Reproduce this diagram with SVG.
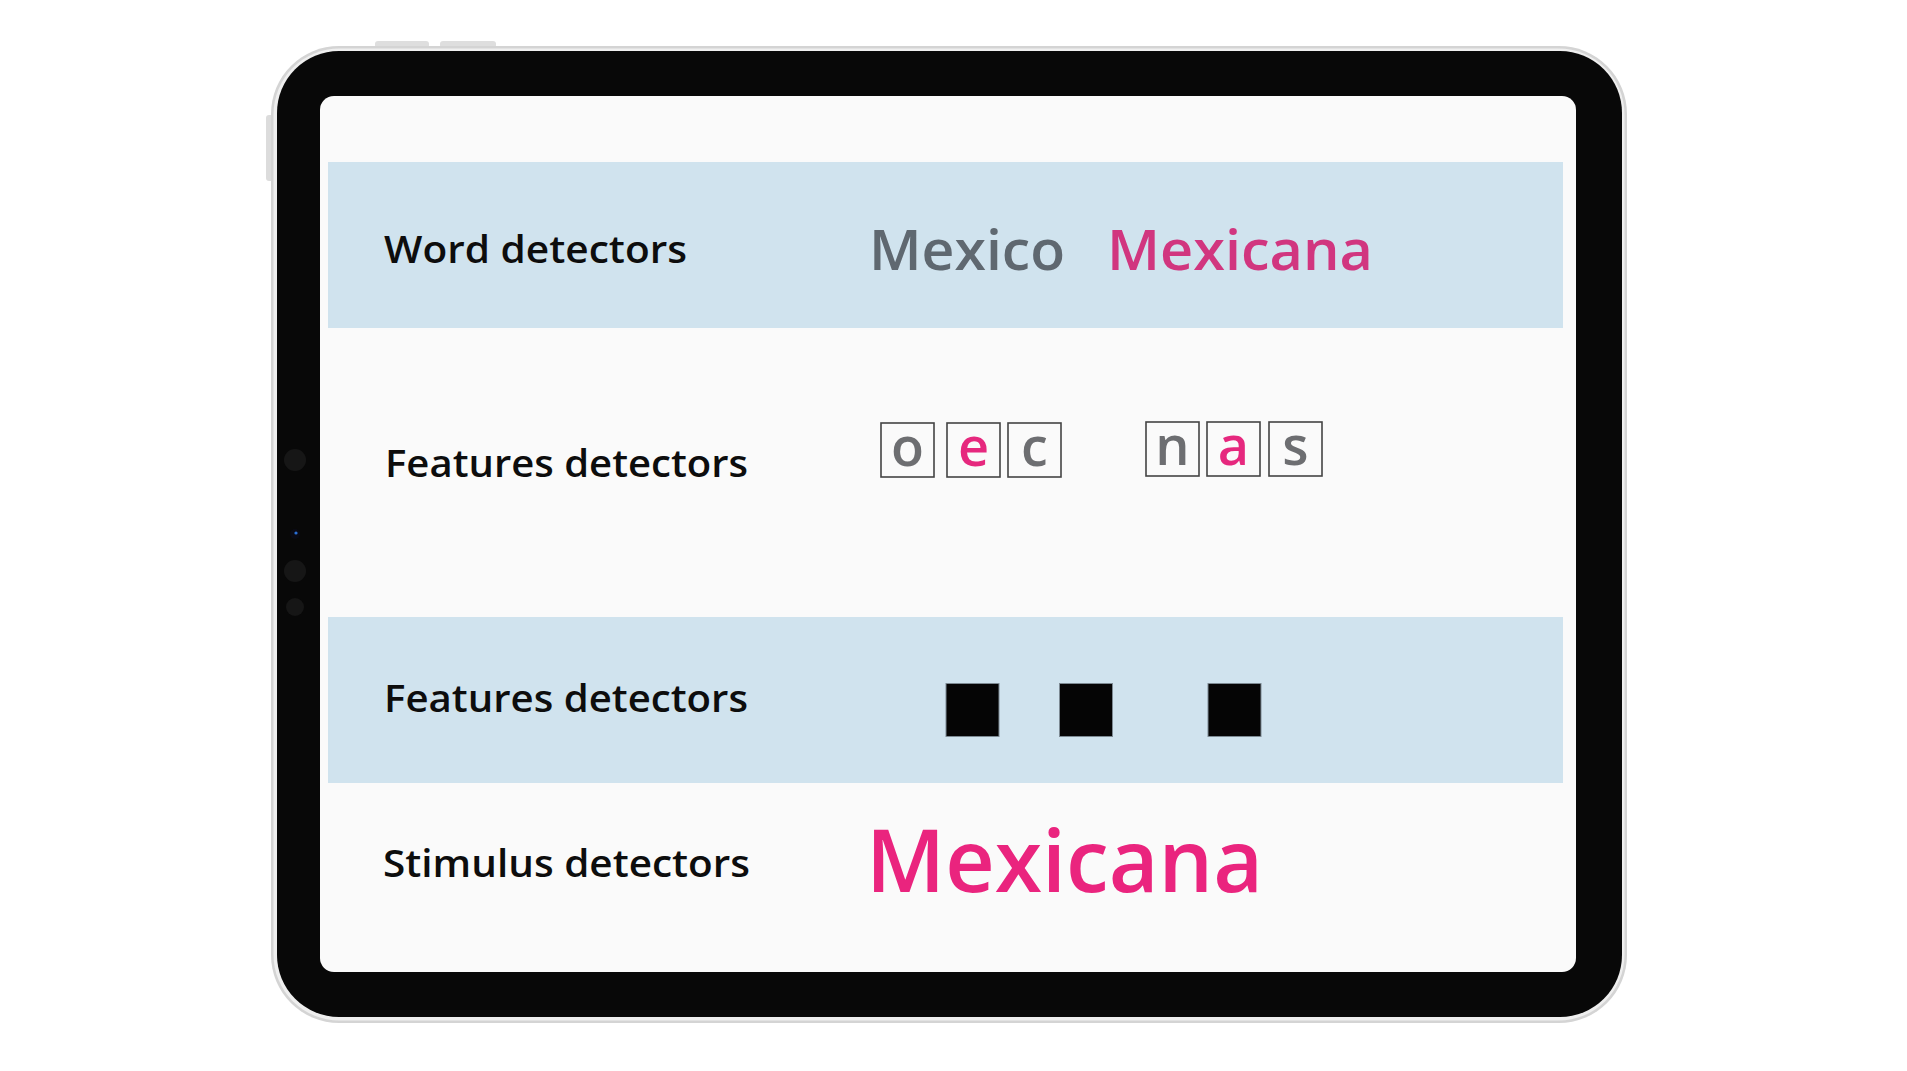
<svg xmlns="http://www.w3.org/2000/svg" width="1907" height="1071" viewBox="0 0 1907 1071">
<defs>
<style>
.label{font-family:"Open Sans","Liberation Sans",sans-serif;font-weight:600;font-size:37px;fill:#0d0d0d}
.word{font-family:"Open Sans","Liberation Sans",sans-serif;font-weight:600}
.box{fill:#fafafa;stroke:#444;stroke-width:1.6}
.let{font-family:"Open Sans","Liberation Sans",sans-serif;font-weight:600;font-size:54px;text-anchor:middle;fill:#6d6e71}
.pink{fill:#e6287e}
.band{fill:#d0e3ee}
.sq{fill:#050505;stroke:#7d8a93;stroke-width:1}
.cam{fill:#161616}
</style>
</defs>
<rect width="1907" height="1071" fill="#ffffff"/>
<g id="device">
<rect x="375" y="41" width="54" height="7" rx="3" fill="#dedede"/>
<rect x="440" y="41" width="56" height="7" rx="3" fill="#dedede"/>
<rect x="266" y="115" width="8" height="66" rx="3" fill="#dcdcdc"/>
<rect x="271" y="46" width="1356" height="977" rx="68" fill="#d4d4d4"/>
<rect x="273.5" y="48.5" width="1351" height="972" rx="66" fill="#efefef"/>
<rect x="277" y="51" width="1345" height="966" rx="62" fill="#080808"/>
<rect x="320" y="96" width="1256" height="876" rx="14" fill="#fafafa"/>
<circle class="cam" cx="295" cy="460" r="11"/>
<circle cx="295" cy="534" r="5" fill="#0a0a14"/>
<circle cx="296" cy="533" r="1.6" fill="#2a6fd6"/>
<circle class="cam" cx="295" cy="571" r="11"/>
<circle class="cam" cx="295" cy="607" r="9"/>
</g>
<g id="row-word">
<rect class="band" x="328" y="162" width="1235" height="166"/>
<text class="label" x="384" y="263" textLength="303" lengthAdjust="spacingAndGlyphs">Word detectors</text>
<text class="word" x="869" y="270" font-size="56" fill="#5f6870" textLength="196" lengthAdjust="spacingAndGlyphs">Mexico</text>
<text class="word" x="1107" y="270" font-size="56" fill="#d1367f" textLength="266" lengthAdjust="spacingAndGlyphs">Mexicana</text>
</g>
<g id="row-letters">
<text class="label" x="385" y="477" textLength="363" lengthAdjust="spacingAndGlyphs">Features detectors</text>
<rect class="box" x="881" y="423" width="53" height="54"/>
<rect class="box" x="947" y="423" width="53" height="54"/>
<rect class="box" x="1008" y="423" width="53" height="54"/>
<rect class="box" x="1146" y="422" width="53" height="54"/>
<rect class="box" x="1207" y="422" width="53" height="54"/>
<rect class="box" x="1269" y="422" width="53" height="54"/>
<text class="let" x="907.5" y="466">o</text>
<text class="let pink" x="973.5" y="466">e</text>
<text class="let" x="1034.5" y="466">c</text>
<text class="let" x="1172.5" y="465">n</text>
<text class="let pink" x="1233.5" y="465">a</text>
<text class="let" x="1295.5" y="465">s</text>
</g>
<g id="row-features">
<rect class="band" x="328" y="617" width="1235" height="166"/>
<text class="label" x="384" y="712" textLength="364" lengthAdjust="spacingAndGlyphs">Features detectors</text>
<rect class="sq" x="946" y="683.5" width="53" height="53"/>
<rect class="sq" x="1059.5" y="683.5" width="53" height="53"/>
<rect class="sq" x="1208" y="683.5" width="53" height="53"/>
</g>
<g id="row-stimulus">
<text class="label" x="383" y="877" textLength="367" lengthAdjust="spacingAndGlyphs">Stimulus detectors</text>
<text class="word" x="866" y="892" font-size="86" fill="#ea247e" textLength="397" lengthAdjust="spacingAndGlyphs">Mexicana</text>
</g>
<g id="connectors"/>
</svg>
